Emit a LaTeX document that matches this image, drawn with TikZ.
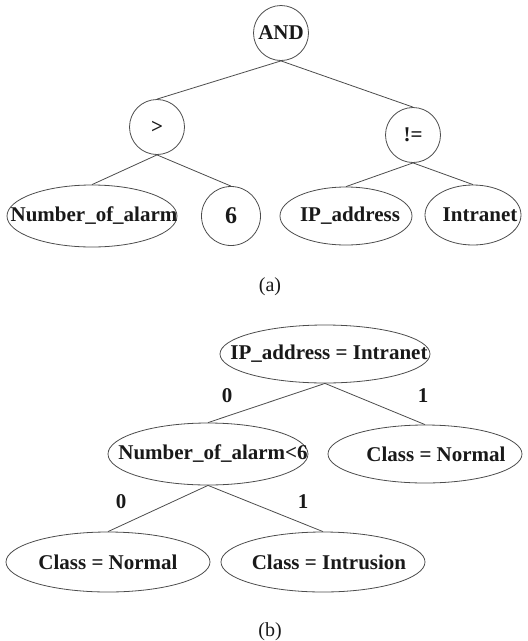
\documentclass[tikz,border=0pt]{standalone}
\usepackage{fontspec}
\setmainfont{Liberation Serif}
\usetikzlibrary{shapes.geometric}
\begin{document}
\begin{tikzpicture}[x=1pt,y=-1pt,
  every node/.style={font=\fontsize{21}{24}\selectfont\bfseries, text=black!90},
  opnode/.style={draw=black!70, line width=0.8pt, circle, inner sep=0pt, minimum size=#1},
  opnode/.default=55,
  % ellipses of a fixed size, with the text set as a centred label
  leaf/.style n args={4}{draw=black!70, line width=0.8pt, ellipse, inner sep=0pt,
    minimum width=#1, minimum height=#2, label={[xshift=#4]center:#3}},
  branch/.style={draw=black!70, line width=0.8pt},
  caption/.style={font=\fontsize{20}{24}\selectfont\mdseries},
  bitlabel/.style={inner sep=0pt}]
\useasboundingbox (0,0) rectangle (528,641);

% (a) expression tree
\node[opnode] (and) at (281,33) {AND};
\node[opnode] (gt) at (157,127) {>};
\node[opnode] (ne) at (413,135) {!=};
\node[leaf={170}{62}{Number\_of\_alarm}{2pt}] (num) at (92,216) {};
\node[opnode=59, font=\fontsize{24}{26}\selectfont\bfseries] (six) at (231,216) {6};
\node[leaf={132}{58}{IP\_address}{4pt}] (ip) at (346,216) {};
\node[leaf={96}{60}{Intranet}{7pt}] (intra) at (473,215) {};
\node[caption] (capa) at (270,287) {(a)};

\draw[branch] (and.south) -- (gt.north);
\draw[branch] (and.south) -- (ne.north);
\draw[branch] (gt.south) -- (num.north);
\draw[branch] (gt.south) -- (six.north);
\draw[branch] (ne.south) -- (ip.north);
\draw[branch] (ne.south) -- (intra.north);

% (b) decision tree
\node[leaf={210}{58}{IP\_address = Intranet}{4pt}] (root) at (325,354) {};
\node[leaf={200}{62}{Number\_of\_alarm<6}{5pt}] (test) at (208,454) {};
\node[leaf={194}{58}{Class = Normal}{11pt}] (normR) at (425,454) {};
\node[leaf={204}{60}{Class = Normal}{0pt}] (normL) at (108,562) {};
\node[leaf={204}{60}{Class = Intrusion}{6pt}] (intr) at (323,562) {};
\node[caption] (capb) at (270,632) {(b)};

\draw[branch] (root.south) -- (test.north);
\draw[branch] (root.south) -- (normR.north);
\draw[branch] (test.south) -- (normL.north);
\draw[branch] (test.south) -- (intr.north);

\node[bitlabel] (r0) at (227,396) {0};
\node[bitlabel] (r1) at (423,396) {1};
\node[bitlabel] (t0) at (121,502) {0};
\node[bitlabel] (t1) at (303,502) {1};
\end{tikzpicture}
\end{document}
